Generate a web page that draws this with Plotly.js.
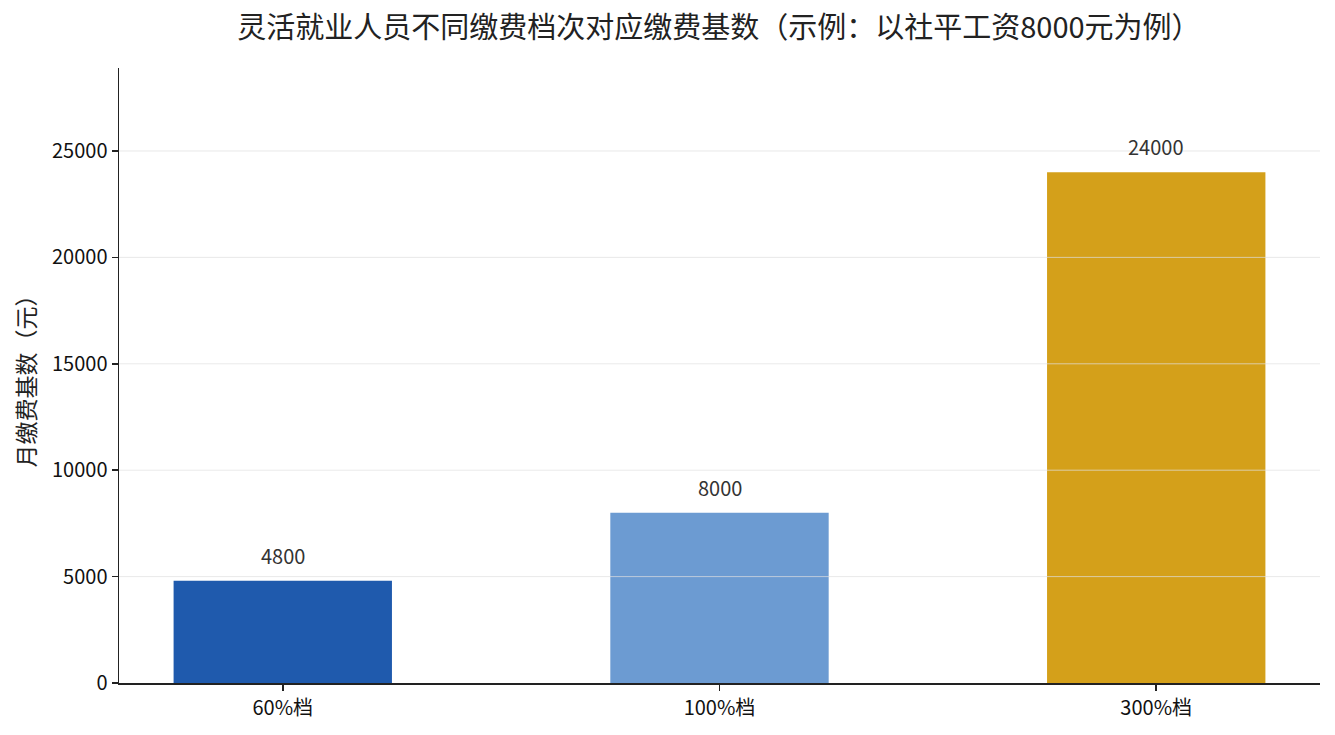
<!DOCTYPE html>
<html>
<head>
<meta charset="utf-8">
<script src="https://cdn.plot.ly/plotly-3.0.1.min.js"></script>
<style>
  html, body { margin: 0; padding: 0; background: #fff; }
  #chart { width: 1335px; height: 735px; }
</style>
</head>
<body>
<div id="chart"></div>
<script>
// 缴费档次与对应的月缴费基数（社平工资 8000 元）
var tiers = ["60%档", "100%档", "300%档"];
var baseValues = [4800, 8000, 24000];
var barColors = ["#1f5aad", "#6c9bd2", "#d4a01a"];
var yTicks = [0, 5000, 10000, 15000, 20000, 25000];

var FONT = "Noto Sans CJK SC, Noto Sans, sans-serif";

var trace = {
  type: "bar",
  x: tiers,
  y: baseValues,
  width: 0.5,
  marker: { color: barColors, line: { width: 0 } },
  hoverinfo: "x+y"
};

// 数值标签放在柱顶上方
var labels = tiers.map(function (t, i) {
  return {
    x: t,
    y: baseValues[i],
    text: String(baseValues[i]),
    showarrow: false,
    yanchor: "bottom",
    yshift: 9,
    font: { family: FONT, size: 20, color: "#333333" }
  };
});

// 网格线画在柱子上面（半透明）
var gridLines = yTicks.slice(1).map(function (v) {
  return {
    type: "line",
    xref: "paper",
    x0: 0,
    x1: 1,
    y0: v,
    y1: v,
    layer: "above",
    line: { color: "rgba(224,224,224,0.7)", width: 1 }
  };
});

var layout = {
  width: 1335,
  height: 735,
  margin: { l: 119, r: 15, t: 68, b: 52 },
  paper_bgcolor: "#ffffff",
  plot_bgcolor: "#ffffff",
  font: { family: FONT, size: 20, color: "#111111" },
  title: {
    text: "灵活就业人员不同缴费档次对应缴费基数（示例：以社平工资8000元为例）",
    font: { family: FONT, size: 29, color: "#222222" },
    x: 0.5385,
    xanchor: "center",
    y: 0.962,
    yanchor: "middle"
  },
  xaxis: {
    type: "category",
    range: [-0.375, 2.375],
    showline: true,
    linecolor: "#222222",
    linewidth: 1.5,
    ticks: "outside",
    ticklen: 6,
    tickwidth: 1.5,
    tickcolor: "#222222",
    showgrid: false,
    zeroline: false,
    tickfont: { family: FONT, size: 20, color: "#111111" }
  },
  yaxis: {
    range: [0, 28900],
    tickvals: yTicks,
    tickformat: "d",
    showline: true,
    linecolor: "#222222",
    linewidth: 1.5,
    ticks: "outside",
    ticklen: 6,
    tickwidth: 1.5,
    tickcolor: "#222222",
    showgrid: false,
    zeroline: false,
    tickfont: { family: FONT, size: 20, color: "#111111" },
    title: {
      text: "月缴费基数（元）",
      font: { family: FONT, size: 23, color: "#222222" },
      standoff: 10
    }
  },
  annotations: labels,
  shapes: gridLines,
  showlegend: false,
  bargap: 0.5
};

Plotly.newPlot("chart", [trace], layout, { displayModeBar: false, staticPlot: true });
</script>
</body>
</html>
